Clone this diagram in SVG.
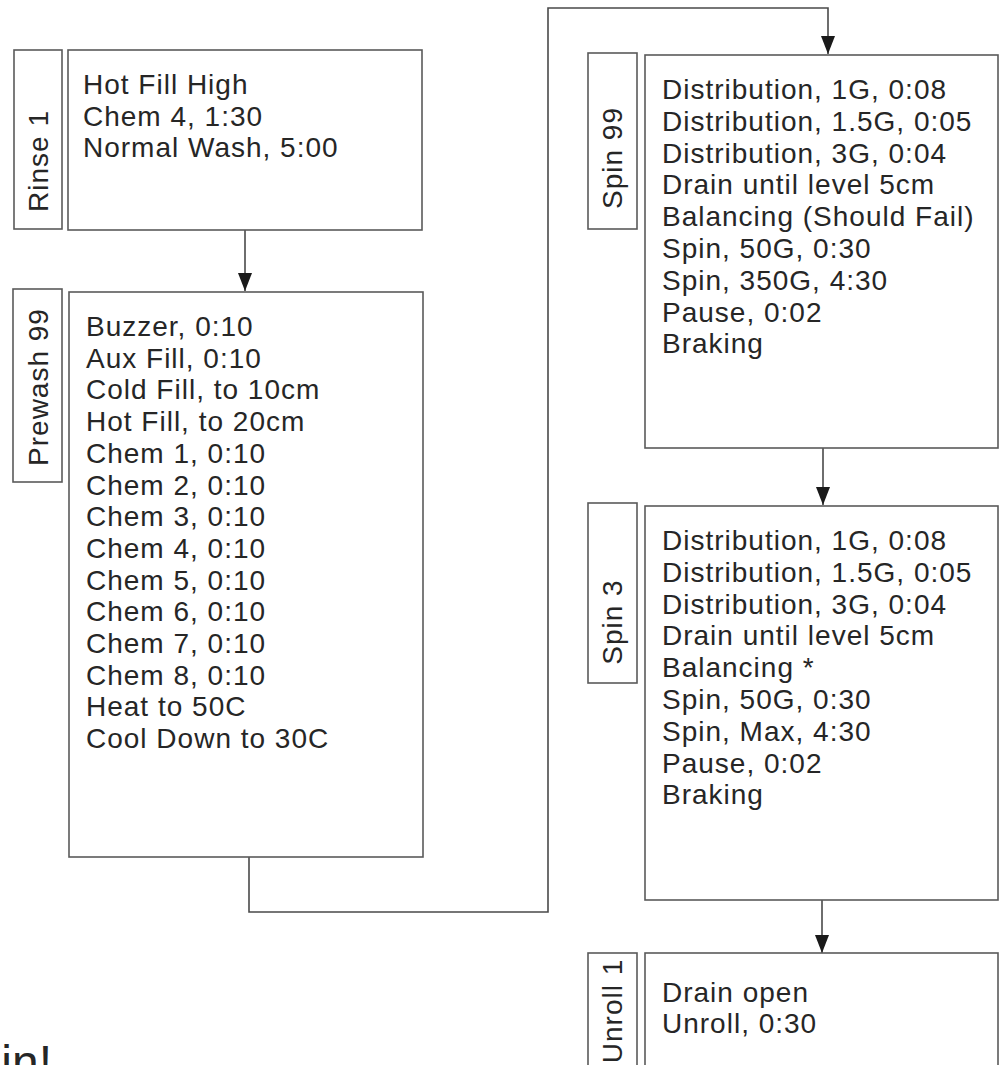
<svg xmlns="http://www.w3.org/2000/svg" width="1000" height="1065" viewBox="0 0 1000 1065">
<style>
.box{fill:#fff;stroke:#5a5a5a;stroke-width:1.6}
.t{font-family:"Liberation Sans",Arial,sans-serif;font-size:28px;fill:#262626;letter-spacing:1px}
.lbl{font-family:"Liberation Sans",Arial,sans-serif;font-size:28px;fill:#262626;letter-spacing:1px;text-anchor:middle}
.conn{fill:none;stroke:#4a4a4a;stroke-width:1.6}
.fin{font-family:"Liberation Sans",Arial,sans-serif;font-size:48px;fill:#262626}
</style>
<defs>
<marker id="ah" markerUnits="userSpaceOnUse" markerWidth="18" markerHeight="14" refX="18" refY="7" orient="auto">
<path d="M0,0 L18,7 L0,14 Z" fill="#1a1a1a"/>
</marker>
</defs>
<rect width="1000" height="1065" fill="#fff"/>
<g id="connectors">
<line class="conn" x1="245" y1="230" x2="245" y2="291" marker-end="url(#ah)"/>
<polyline class="conn" points="249,857 249,912 548,912 548,8 828,8 828,54" marker-end="url(#ah)"/>
<line class="conn" x1="823" y1="448" x2="823" y2="505" marker-end="url(#ah)"/>
<line class="conn" x1="822" y1="900" x2="822" y2="953" marker-end="url(#ah)"/>
</g>
<g id="rinse1">
<rect class="box" x="14" y="50" width="48" height="179"/>
<text class="lbl" transform="translate(48,161) rotate(-90)">Rinse 1</text>
<rect class="box" x="68" y="50" width="354" height="180"/>
<text class="t"><tspan x="83" y="94">Hot Fill High</tspan><tspan x="83" y="125.5">Chem 4, 1:30</tspan><tspan x="83" y="157">Normal Wash, 5:00</tspan></text>
</g>
<g id="prewash99">
<rect class="box" x="13" y="289" width="49" height="193"/>
<text class="lbl" transform="translate(48,387) rotate(-90)">Prewash 99</text>
<rect class="box" x="69" y="292" width="354" height="565"/>
<text class="t"><tspan x="86" y="336">Buzzer, 0:10</tspan><tspan x="86" y="367.7">Aux Fill, 0:10</tspan><tspan x="86" y="399.4">Cold Fill, to 10cm</tspan><tspan x="86" y="431.1">Hot Fill, to 20cm</tspan><tspan x="86" y="462.8">Chem 1, 0:10</tspan><tspan x="86" y="494.5">Chem 2, 0:10</tspan><tspan x="86" y="526.2">Chem 3, 0:10</tspan><tspan x="86" y="557.9">Chem 4, 0:10</tspan><tspan x="86" y="589.6">Chem 5, 0:10</tspan><tspan x="86" y="621.3">Chem 6, 0:10</tspan><tspan x="86" y="653">Chem 7, 0:10</tspan><tspan x="86" y="684.7">Chem 8, 0:10</tspan><tspan x="86" y="716.4">Heat to 50C</tspan><tspan x="86" y="748.1">Cool Down to 30C</tspan></text>
</g>
<g id="spin99">
<rect class="box" x="588" y="53" width="49" height="176"/>
<text class="lbl" transform="translate(622,158) rotate(-90)">Spin 99</text>
<rect class="box" x="645" y="55" width="353" height="393"/>
<text class="t"><tspan x="662" y="99">Distribution, 1G, 0:08</tspan><tspan x="662" y="130.8">Distribution, 1.5G, 0:05</tspan><tspan x="662" y="162.6">Distribution, 3G, 0:04</tspan><tspan x="662" y="194.4">Drain until level 5cm</tspan><tspan x="662" y="226.2">Balancing (Should Fail)</tspan><tspan x="662" y="258">Spin, 50G, 0:30</tspan><tspan x="662" y="289.8">Spin, 350G, 4:30</tspan><tspan x="662" y="321.6">Pause, 0:02</tspan><tspan x="662" y="353.4">Braking</tspan></text>
</g>
<g id="spin3">
<rect class="box" x="588" y="503" width="49" height="180"/>
<text class="lbl" transform="translate(622,622) rotate(-90)">Spin 3</text>
<rect class="box" x="645" y="506" width="353" height="394"/>
<text class="t"><tspan x="662" y="550">Distribution, 1G, 0:08</tspan><tspan x="662" y="581.8">Distribution, 1.5G, 0:05</tspan><tspan x="662" y="613.6">Distribution, 3G, 0:04</tspan><tspan x="662" y="645.4">Drain until level 5cm</tspan><tspan x="662" y="677.2">Balancing *</tspan><tspan x="662" y="709">Spin, 50G, 0:30</tspan><tspan x="662" y="740.8">Spin, Max, 4:30</tspan><tspan x="662" y="772.6">Pause, 0:02</tspan><tspan x="662" y="804.4">Braking</tspan></text>
</g>
<g id="unroll1">
<rect class="box" x="588" y="953" width="49" height="130"/>
<text class="lbl" transform="translate(622,1011) rotate(-90)">Unroll 1</text>
<rect class="box" x="645" y="953" width="353" height="130"/>
<text class="t"><tspan x="662" y="1002">Drain open</tspan><tspan x="662" y="1033">Unroll, 0:30</tspan></text>
</g>
<g id="fin">
<text class="fin" x="-28" y="1079">Fin!</text>
</g>
</svg>
